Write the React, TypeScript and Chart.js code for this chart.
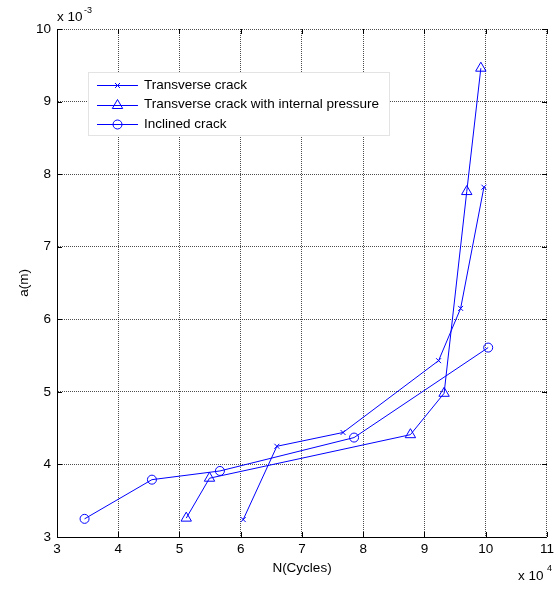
import React, { useEffect, useRef } from "react";
import { Chart, registerables } from "chart.js";

Chart.register(...registerables);

// N in units of 10^4 cycles, a in units of 10^-3 m
const transverseN = [6.04, 6.59, 7.67, 9.23, 9.59, 9.97];
const transverseA = [3.24, 4.25, 4.44, 5.43, 6.15, 7.82];

const pressureN = [5.11, 5.49, 8.77, 9.32, 9.69, 9.92];
const pressureA = [3.26, 3.81, 4.41, 4.98, 7.76, 9.46];

const inclinedN = [3.45, 4.55, 5.66, 7.85, 10.04];
const inclinedA = [3.25, 3.79, 3.91, 4.37, 5.61];

const seriesLabels = [
  "Transverse crack",
  "Transverse crack with internal pressure",
  "Inclined crack",
];
const xTitle = "N(Cycles)";
const yTitle = "a(m)";

const BLUE = "#0000ff";
const FONT = "'Liberation Sans', Arial, sans-serif";

const toPts = (xs: number[], ys: number[]) => xs.map((x, i) => ({ x, y: ys[i] }));

const extras = {
  id: "matlabExtras",
  afterDraw(chart: any) {
    const { ctx, chartArea: a, scales } = chart;
    ctx.save();
    // inward ticks
    ctx.strokeStyle = "#000";
    ctx.lineWidth = 1;
    ctx.setLineDash([]);
    const L = 5;
    scales.x.ticks.forEach((t: any) => {
      const px = Math.round(scales.x.getPixelForValue(t.value)) + 0.5;
      ctx.beginPath();
      ctx.moveTo(px, a.bottom);
      ctx.lineTo(px, a.bottom - L);
      ctx.moveTo(px, a.top);
      ctx.lineTo(px, a.top + L);
      ctx.stroke();
    });
    scales.y.ticks.forEach((t: any) => {
      const py = Math.round(scales.y.getPixelForValue(t.value)) + 0.5;
      ctx.beginPath();
      ctx.moveTo(a.left, py);
      ctx.lineTo(a.left + L, py);
      ctx.moveTo(a.right, py);
      ctx.lineTo(a.right - L, py);
      ctx.stroke();
    });

    // axis titles
    ctx.fillStyle = "#000";
    ctx.font = `13.5px ${FONT}`;
    ctx.textAlign = "center";
    ctx.textBaseline = "middle";
    ctx.fillText(xTitle, 302, 568);
    ctx.save();
    ctx.translate(24, 283);
    ctx.rotate(-Math.PI / 2);
    ctx.fillText(yTitle, 0, 0);
    ctx.restore();

    // exponent labels
    ctx.textAlign = "left";
    ctx.font = `13.5px ${FONT}`;
    ctx.fillText("x 10", 57, 17);
    ctx.font = `9px ${FONT}`;
    ctx.fillText("-3", 84, 11);
    ctx.font = `13.5px ${FONT}`;
    ctx.fillText("x 10", 518, 576);
    ctx.font = `9px ${FONT}`;
    ctx.fillText("4", 547, 569);

    // legend
    const bx = 88.5, by = 72.5, bw = 301, bh = 63;
    ctx.fillStyle = "#fff";
    ctx.fillRect(bx, by, bw, bh);
    ctx.strokeStyle = "#e3e3e3";
    ctx.strokeRect(bx, by, bw, bh);
    const rows = [85, 104.5, 124];
    chart.data.datasets.forEach((ds: any, i: number) => {
      const y = rows[i];
      const my = Math.round(y) + 0.5;
      ctx.strokeStyle = BLUE;
      ctx.lineWidth = 1;
      ctx.beginPath();
      ctx.moveTo(97, my);
      ctx.lineTo(138, my);
      ctx.stroke();
      const mx = 117.5;
      const r = ds.pointRadius;
      ctx.beginPath();
      if (ds.pointStyle === "crossRot") {
        const o = r * Math.SQRT1_2;
        ctx.moveTo(mx - o, my - o);
        ctx.lineTo(mx + o, my + o);
        ctx.moveTo(mx + o, my - o);
        ctx.lineTo(mx - o, my + o);
      } else if (ds.pointStyle === "triangle") {
        for (let k = 0; k < 3; k++) {
          const ang = (k * 2 * Math.PI) / 3;
          const px = mx + Math.sin(ang) * r;
          const py = my - Math.cos(ang) * r;
          if (k === 0) ctx.moveTo(px, py);
          else ctx.lineTo(px, py);
        }
        ctx.closePath();
      } else {
        ctx.arc(mx, my, r, 0, Math.PI * 2);
      }
      ctx.stroke();
      ctx.fillStyle = "#000";
      ctx.font = `13.5px ${FONT}`;
      ctx.textAlign = "left";
      ctx.textBaseline = "middle";
      ctx.fillText(ds.label, 144, y);
    });
    ctx.restore();
  },
};

export default function App() {
  const ref = useRef<HTMLCanvasElement | null>(null);
  useEffect(() => {
    document.body.style.margin = "0";
    if (!ref.current) return;
    const common = {
      borderColor: BLUE,
      borderWidth: 1,
      backgroundColor: "rgba(0,0,0,0)",
      pointBorderColor: BLUE,
      pointBackgroundColor: "rgba(0,0,0,0)",
      pointBorderWidth: 1,
      showLine: true,
      fill: false,
      tension: 0,
    };
    const chart = new Chart(ref.current, {
      type: "scatter",
      data: {
        datasets: [
          { ...common, label: seriesLabels[0], data: toPts(transverseN, transverseA), pointStyle: "crossRot", pointRadius: 3.5 },
          { ...common, label: seriesLabels[1], data: toPts(pressureN, pressureA), pointStyle: "triangle", pointRadius: 6 },
          { ...common, label: seriesLabels[2], data: toPts(inclinedN, inclinedA), pointStyle: "circle", pointRadius: 4.5 },
        ] as any,
      },
      options: {
        animation: false,
        responsive: false,
        devicePixelRatio: 1,
        layout: { padding: { top: 29, right: 8, left: 0, bottom: 0 } },
        plugins: { legend: { display: false }, tooltip: { enabled: false } },
        scales: {
          x: {
            type: "linear",
            min: 3,
            max: 11,
            afterFit: (s: any) => { s.height = 53; },
            ticks: { stepSize: 1, color: "#000", font: { size: 13.5, family: FONT }, padding: 4, maxRotation: 0 },
            grid: { color: "rgba(0,0,0,0.7)", drawTicks: false, lineWidth: 1 },
            border: { display: true, color: "#000", width: 1, dash: [1, 1] },
          },
          y: {
            type: "linear",
            min: 3,
            max: 10,
            afterFit: (s: any) => { s.width = 57; },
            ticks: { stepSize: 1, color: "#000", font: { size: 13.5, family: FONT }, padding: 6 },
            grid: { color: "rgba(0,0,0,0.7)", drawTicks: false, lineWidth: 1 },
            border: { display: true, color: "#000", width: 1, dash: [1, 1] },
          },
        },
      } as any,
      plugins: [extras],
    });
    return () => chart.destroy();
  }, []);
  return (
    <div style={{ width: 558, height: 590 }}>
      <canvas ref={ref} width={558} height={590} style={{ display: "block" }} />
    </div>
  );
}
